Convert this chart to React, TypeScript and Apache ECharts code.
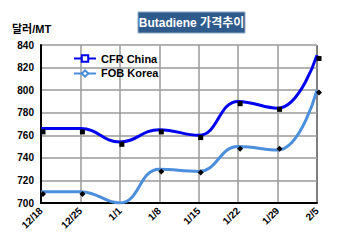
import React, { useEffect, useRef } from "react";
import * as echarts from "echarts";

const categories = ["12/18", "12/25", "1/1", "1/8", "1/15", "1/22", "1/29", "2/5"];
const cfrChina = [766, 766, 754, 765, 760, 790, 784, 831];
const fobKorea = [710, 710, 700, 730, 728, 750, 747, 800];
const cfrMarkers = [763, 763, 752, 763, 758, 788, 783, 828];
const fobMarkers = [708, 708, 699, 728, 727, 748, 748, 798];
const yTicks = [700, 720, 740, 760, 780, 800, 820, 840];

export default function App() {
  const ref = useRef<HTMLDivElement>(null);
  useEffect(() => {
    if (!ref.current) return;
    const chart = echarts.init(ref.current, undefined, { renderer: "svg" });
    const font = "Arial, 'Liberation Sans', 'Noto Sans CJK KR', sans-serif";
    chart.setOption({
      animation: false,
      backgroundColor: "#ffffff",
      textStyle: { fontFamily: font },
      graphic: [
        {
          type: "rect",
          shape: { x: 138, y: 12, width: 107, height: 21 },
          style: { fill: "#2F5A8C", stroke: "#8FA9C8", lineWidth: 1 },
        },
        {
          type: "text",
          x: 191.5,
          y: 22.5,
          style: {
            text: "Butadiene 가격추이",
            fill: "#ffffff",
            font: "bold 12px " + font,
            align: "center",
            verticalAlign: "middle",
          },
        },
        {
          type: "text",
          x: 12,
          y: 29,
          style: {
            text: "달러/MT",
            fill: "#000000",
            font: "bold 11px " + font,
            align: "left",
            verticalAlign: "middle",
          },
        },
        {
          type: "line",
          shape: { x1: 317, y1: 45, x2: 317, y2: 203 },
          style: { stroke: "#333333", lineWidth: 2 },
        },
      ],
      legend: {
        left: 68,
        top: 48,
        orient: "vertical",
        itemGap: 4,
        itemWidth: 22,
        itemHeight: 8,
        data: ["CFR China", "FOB Korea"],
        textStyle: { fontWeight: "bold", fontSize: 11, color: "#000", fontFamily: font },
      },
      grid: { left: 41, right: 33, top: 45, bottom: 46, containLabel: false },
      xAxis: {
        type: "category",
        data: categories,
        boundaryGap: false,
        axisLine: { lineStyle: { color: "#000", width: 2 } },
        axisTick: { show: false },
        axisLabel: {
          rotate: 45,
          fontSize: 10,
          fontWeight: "bold",
          color: "#000",
          margin: 6,
          interval: 0,
        },
        splitLine: { show: true, lineStyle: { color: "#9a9a9a", width: 1.5 } },
      },
      yAxis: {
        type: "value",
        min: 700,
        max: 840,
        interval: 20,
        axisLine: { show: true, lineStyle: { color: "#000", width: 2 } },
        axisTick: { show: false },
        axisLabel: {
          fontSize: 10,
          fontWeight: "bold",
          color: "#000",
          margin: 7,
          formatter: (v: number) => (yTicks.includes(v) ? String(v) : ""),
        },
        splitLine: { show: true, lineStyle: { color: "#9a9a9a", width: 1.5 } },
      },
      series: [
        {
          name: "CFR China",
          type: "line",
          data: cfrChina,
          smooth: 0.45,
          symbol: "rect",
          symbolSize: 6,
          showSymbol: false,
          lineStyle: { color: "#0000F0", width: 3 },
          itemStyle: { color: "#ffffff", borderColor: "#0000F0", borderWidth: 2 },
          z: 3,
        },
        {
          name: "FOB Korea",
          type: "line",
          data: fobKorea,
          smooth: 0.45,
          symbol: "diamond",
          symbolSize: 7,
          showSymbol: false,
          lineStyle: { color: "#4A8EDC", width: 3 },
          itemStyle: { color: "#ffffff", borderColor: "#4A8EDC", borderWidth: 1.5 },
          z: 3,
        },
        {
          name: "cfrMk",
          type: "line",
          data: cfrMarkers,
          symbol: "rect",
          symbolSize: 5,
          symbolOffset: [2, 0],
          lineStyle: { width: 0, opacity: 0 },
          itemStyle: { color: "#000000" },
          z: 4,
        },
        {
          name: "fobMk",
          type: "line",
          data: fobMarkers,
          symbol: "diamond",
          symbolSize: 6,
          symbolOffset: [2, 0],
          lineStyle: { width: 0, opacity: 0 },
          itemStyle: { color: "#000000" },
          z: 4,
        },
      ],
    });
    return () => chart.dispose();
  }, []);
  return <div ref={ref} style={{ width: 350, height: 249, margin: -8 }} />;
}
